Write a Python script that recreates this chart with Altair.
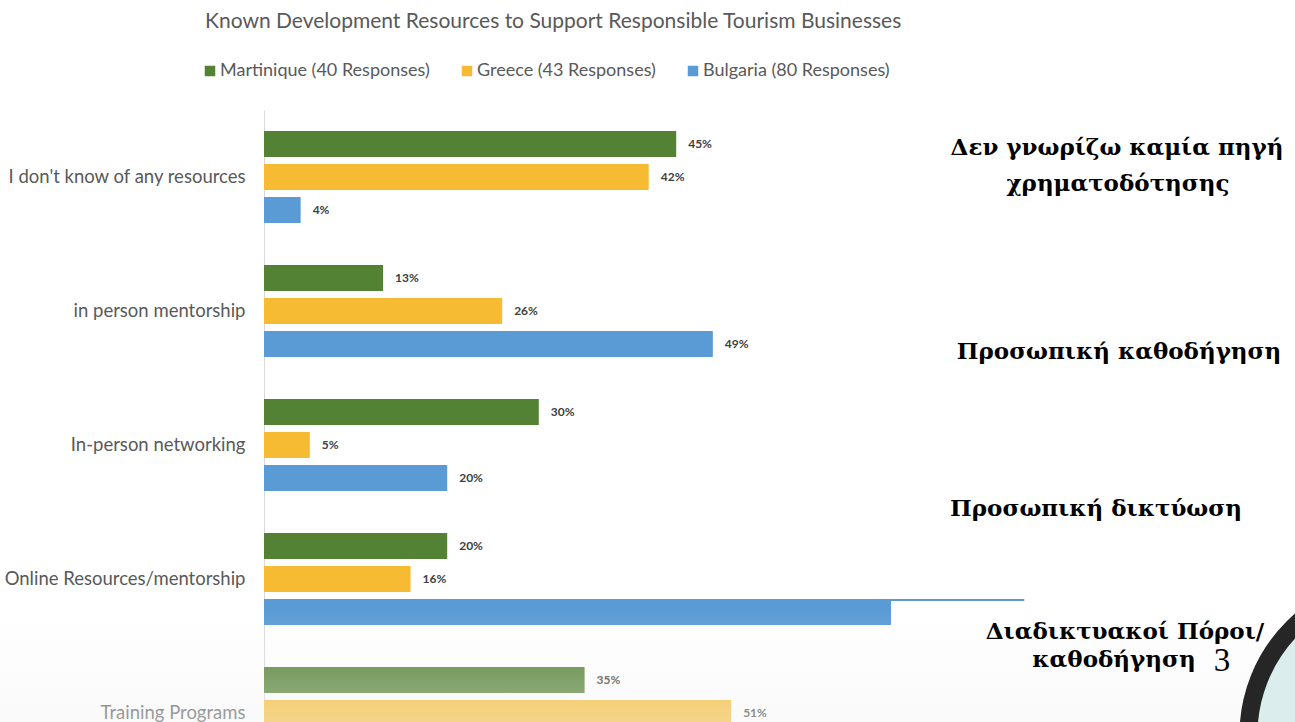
import altair as alt
import pandas as pd

# ---- data ----
categories = [
    "I don't know of any resources",
    "in person mentorship",
    "In-person networking",
    "Online Resources/mentorship",
    "Training Programs",
]
series = ["Martinique (40 Responses)", "Greece (43 Responses)", "Bulgaria (80 Responses)"]
martinique = [45, 13, 30, 20, 35]
greece = [42, 26, 5, 16, 51]
bulgaria = [4, 49, 20, 83, None]  # last one is cut off in the picture
colors = ["#548235", "#F6BB33", "#5B9BD5"]

title_text = "Known Development Resources to Support Responsible Tourism Businesses"
greek_1 = ["Δεν γνωρίζω καμία πηγή", "χρηματοδότησης"]
greek_2 = "Προσωπική καθοδήγηση"
greek_3 = "Προσωπική δικτύωση"
greek_4 = ["Διαδικτυακοί Πόροι/", "καθοδήγηση"]
page_no = "3"

rows = []
for s, vals in zip(series, [martinique, greece, bulgaria]):
    for c, v in zip(categories, vals):
        if v is not None:
            rows.append({"category": c, "series": s, "value": v, "label": f"{v}%"})
df = pd.DataFrame(rows)
one = pd.DataFrame({"k": [0]})

FONT = "Lato"
GREY = "#595959"

y_enc = alt.Y(
    "category:N",
    sort=categories,
    scale=alt.Scale(range=[0, 670], paddingInner=0.26, paddingOuter=0.13),
    axis=alt.Axis(
        title=None, ticks=False, labelFontSize=18.5, labelFont=FONT, labelColor=GREY,
        labelPadding=19, domainColor="#d9d9d9", labelLimit=400,
    ),
)
yoff = alt.YOffset("series:N", sort=series, scale=alt.Scale(paddingInner=0.21, paddingOuter=0.105))
x_enc = alt.X("value:Q", scale=alt.Scale(domain=[0, 100]), axis=None)

bars = alt.Chart(df).mark_bar(clip=False).encode(
    y=y_enc,
    yOffset=yoff,
    x=x_enc,
    color=alt.Color(
        "series:N",
        scale=alt.Scale(domain=series, range=colors),
        legend=alt.Legend(
            orient="none", legendX=-63, legendY=-48, direction="horizontal", title=None,
            symbolType="square", symbolSize=110, symbolStrokeWidth=0,
            labelFontSize=18, labelFont=FONT, labelColor=GREY, labelLimit=400,
            columnPadding=28, labelOffset=1,
        ),
    ),
)

labels = alt.Chart(df).mark_text(
    align="left", baseline="middle", dx=12, font=FONT, fontSize=12, fontWeight="bold", color="#404040"
).encode(y=alt.Y("category:N", sort=categories), yOffset=alt.YOffset("series:N", sort=series),
         x="value:Q", text="label:N")

title = alt.Chart(one).mark_text(
    align="left", baseline="middle", font=FONT, fontSize=21, color=GREY
).encode(x=alt.value(-59), y=alt.value(-88), text=alt.value(title_text))

# white background of the Greek text box, which hides part of the last blue bar
box = alt.Chart(one).mark_rect(color="white").encode(
    x=alt.value(627), x2=alt.value(1031), y=alt.value(491), y2=alt.value(540)
)

fade = alt.Chart(one).mark_rect(
    fill=alt.Gradient(
        gradient="linear",
        stops=[
            alt.GradientStop(color="rgba(243,243,243,0)", offset=0),
            alt.GradientStop(color="rgba(243,243,243,0.45)", offset=1),
        ],
        x1=0, x2=0, y1=0, y2=1,
    )
).encode(x=alt.value(-264), x2=alt.value(1031), y=alt.value(500), y2=alt.value(612))

gk = dict(align="center", baseline="middle", font="DejaVu Serif", fontSize=23,
          fontWeight="bold", color="black")
g1a = alt.Chart(one).mark_text(**gk).encode(x=alt.value(853), y=alt.value(38), text=alt.value(greek_1[0]))
g1b = alt.Chart(one).mark_text(**gk).encode(x=alt.value(854), y=alt.value(74), text=alt.value(greek_1[1]))
g2 = alt.Chart(one).mark_text(**gk).encode(x=alt.value(855), y=alt.value(242), text=alt.value(greek_2))
g3 = alt.Chart(one).mark_text(**gk).encode(x=alt.value(832), y=alt.value(399), text=alt.value(greek_3))
g4a = alt.Chart(one).mark_text(**gk).encode(x=alt.value(861), y=alt.value(522), text=alt.value(greek_4[0]))
g4b = alt.Chart(one).mark_text(**gk).encode(x=alt.value(850), y=alt.value(550), text=alt.value(greek_4[1]))
pg = alt.Chart(one).mark_text(align="center", baseline="middle", font="Liberation Serif",
                              fontSize=33, color="black").encode(
    x=alt.value(958), y=alt.value(551), text=alt.value(page_no))

ring = alt.Chart(one).mark_point(
    shape="circle", filled=True, fill="#dcedee", stroke="#262626", strokeWidth=18,
    size=91863, opacity=1, fillOpacity=1, strokeOpacity=1,
).encode(x=alt.value(1136), y=alt.value(625))

chart = alt.layer(bars, labels, title, box, fade, g1a, g1b, g2, g3, g4a, g4b, pg, ring).properties(
    width=916,
    height=612,
    padding={"left": 264, "top": 110, "right": 115, "bottom": 0},
    autosize=alt.AutoSizeParams(type="none"),
    background="white",
).configure_view(strokeWidth=0, stroke="transparent")

chart.save("out.html", embed_options={"renderer": "svg", "actions": False})
